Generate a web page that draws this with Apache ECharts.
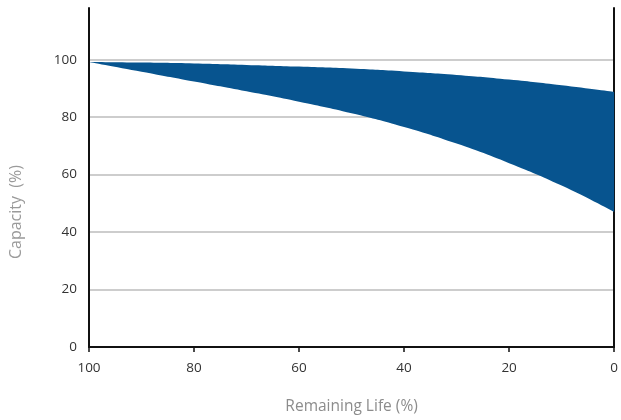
<!DOCTYPE html>
<html><head><meta charset="utf-8">
<script src="https://cdn.jsdelivr.net/npm/echarts@6/dist/echarts.min.js"></script>
<style>html,body{margin:0;padding:0;background:#fff}#c{width:621px;height:420px}</style>
</head><body><div id="c"></div>
<script>
const remainingLife = ['100', '90', '80', '70', '60', '50', '40', '30', '20', '10', '0'];
const capacityLower = [99.2, 95.8, 92.4, 89.0, 85.4, 81.4, 76.6, 70.8, 64.0, 56.2, 47.0];
const capacityUpper = [99.2, 99.0, 98.7, 98.2, 97.6, 96.9, 95.9, 94.7, 93.1, 91.1, 88.8];
const yTicks = [0, 20, 40, 60, 80, 100];

const FONT = '"Open Sans", "DejaVu Sans", sans-serif';
const bandWidth = capacityUpper.map((u, i) => u - capacityLower[i]);

const chart = echarts.init(document.getElementById('c'), null, {renderer: 'canvas'});
chart.setOption({
  animation: false,
  grid: {left: 89, right: 5, top: 8, bottom: 73},
  xAxis: {
    type: 'category', data: remainingLife, boundaryGap: false,
    axisLine: {show: true, lineStyle: {color: '#111', width: 2}},
    axisTick: {show: true, interval: 1, length: 5, lineStyle: {color: '#111', width: 1.5}},
    axisLabel: {color: '#333', fontSize: 13.5, fontFamily: FONT, margin: 14, interval: 1},
    splitLine: {show: false},
    name: 'Remaining Life (%)', nameLocation: 'middle', nameGap: 52,
    nameTextStyle: {color: '#8c8c8c', fontSize: 15.5, fontFamily: FONT}
  },
  yAxis: [{
    type: 'value', min: 0, max: 118, interval: 20,
    axisLine: {show: true, lineStyle: {color: '#111', width: 2}},
    axisTick: {show: false},
    axisLabel: {color: '#333', fontSize: 13.5, fontFamily: FONT, margin: 12, showMaxLabel: false,
      formatter: v => yTicks.includes(v) ? String(v) : ''},
    splitLine: {show: true, showMaxLine: false, lineStyle: {color: '#bdbdbd', width: 1.5}}
  }, {
    type: 'value', min: 0, max: 118, interval: 20, position: 'right',
    axisLine: {show: true, lineStyle: {color: '#111', width: 2}},
    axisTick: {show: false}, axisLabel: {show: false}, splitLine: {show: false}
  }],
  graphic: [{
    type: 'text', rotation: Math.PI / 2, x: 16, y: 212,
    style: {text: 'Capacity  (%)', fill: '#9a9a9a', fontSize: 16, fontFamily: FONT,
      align: 'center', verticalAlign: 'middle'}
  }],
  series: [{
    type: 'line', stack: 'band', data: capacityLower, smooth: true, symbol: 'none',
    lineStyle: {width: 0}, areaStyle: {opacity: 0}, z: 2
  }, {
    type: 'line', stack: 'band', data: bandWidth, smooth: true, symbol: 'none',
    lineStyle: {width: 0}, areaStyle: {color: '#07548f', opacity: 1}, z: 2
  }]
});
</script></body></html>
